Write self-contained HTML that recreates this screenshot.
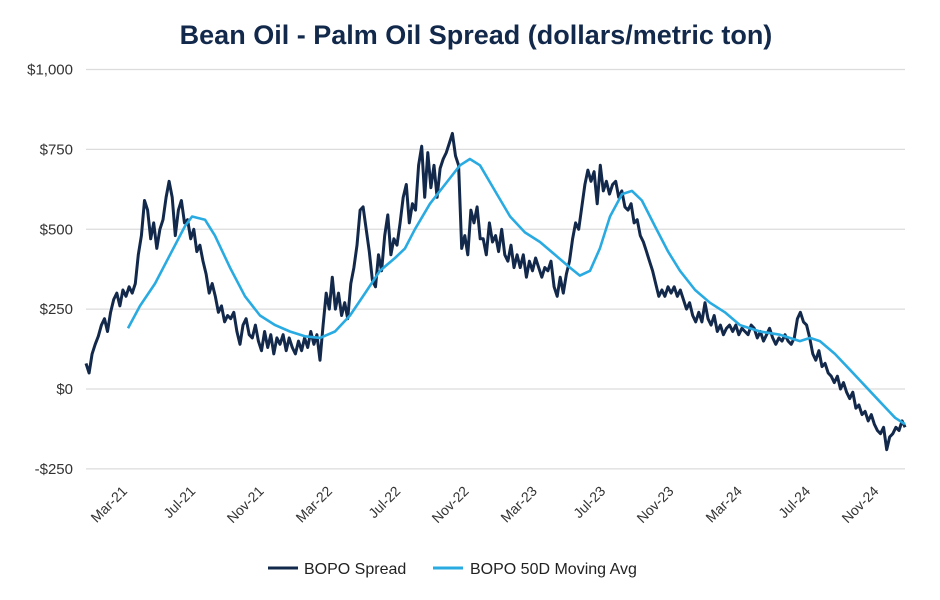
<!DOCTYPE html>
<html><head><meta charset="utf-8"><style>
body{margin:0;background:#fff;}
svg{display:block;font-family:"Liberation Sans",sans-serif;}
</style></head><body>
<svg id="chart" width="940" height="600">
<text x="476" y="44" text-anchor="middle" font-size="27" font-weight="bold" fill="#13294b">Bean Oil - Palm Oil Spread (dollars/metric ton)</text>
<g id="grid"></g>
<g id="yt"></g>
<g id="xt"></g>
<g id="series"></g>
<g>
<g><line x1="268" y1="568" x2="298" y2="568" stroke="#13294b" stroke-width="3"/><text x="304" y="574" font-size="16" fill="#222">BOPO Spread</text></g>
<g><line x1="433" y1="568" x2="463" y2="568" stroke="#29abe2" stroke-width="3"/><text x="470" y="574" font-size="16" fill="#222">BOPO 50D Moving Avg</text></g>
</g>
</svg>
<script>
const yTicks=[-250,0,250,500,750,1000];
const yTickLabels=["-$250","$0","$250","$500","$750","$1,000"];
const xTickMonths=[2,6,10,14,18,22,26,30,34,38,42,46];
const xTickLabels=["Mar-21","Jul-21","Nov-21","Mar-22","Jul-22","Nov-22","Mar-23","Jul-23","Nov-23","Mar-24","Jul-24","Nov-24"];
const spreadStartMonth=-0.46;
const spreadEndMonth=47.5;
const spreadValues=[80,50,110,140,165,200,220,180,240,280,300,260,310,290,320,300,330,420,480,590,560,470,520,440,500,530,600,650,600,480,560,590,520,530,470,500,430,450,400,360,300,330,290,240,260,210,230,220,240,180,140,200,220,170,160,200,150,120,180,130,170,110,160,140,170,120,160,130,110,150,120,160,130,180,140,170,90,200,300,250,350,250,300,230,270,220,330,380,450,560,570,500,430,340,320,420,370,480,545,420,470,450,520,600,640,520,580,560,700,760,600,740,630,700,600,690,720,740,770,800,730,700,440,480,420,560,520,570,470,470,420,520,460,480,430,500,420,400,450,380,420,380,420,350,400,370,410,380,350,380,370,400,320,290,350,300,360,400,470,520,500,570,640,685,650,680,580,700,620,650,610,640,650,600,620,570,560,580,520,530,480,460,430,400,370,330,290,310,290,320,300,320,290,310,280,250,270,230,210,240,210,270,220,200,230,180,200,170,190,200,180,200,170,190,180,170,200,190,160,180,150,170,190,160,140,160,150,170,150,140,160,220,240,210,200,160,110,90,120,70,80,50,40,20,40,0,20,-10,-30,-10,-60,-50,-80,-70,-100,-80,-110,-130,-140,-120,-190,-150,-140,-120,-130,-100,-120];
const maMonths=[2.0,2.7,3.58,4.46,5.34,5.75,6.51,7.09,7.97,8.85,9.73,10.61,11.48,12.36,13.24,14.12,15.0,15.88,16.75,17.63,18.22,18.8,19.68,20.56,21.44,22.02,22.61,23.49,24.37,25.24,26.12,27.0,27.88,28.46,29.05,29.63,30.22,30.92,31.51,32.09,32.85,33.62,34.32,35.2,36.07,36.95,37.83,39.0,40.17,41.34,41.93,42.51,43.39,44.27,45.15,46.03,46.91,47.49];
const maValues=[190,260,330,420,510,540,530,480,380,290,230,200,180,165,160,180,230,300,370,410,440,500,580,640,700,720,700,620,540,490,460,420,380,355,370,440,540,610,620,590,510,430,370,310,270,240,200,180,170,150,160,150,110,60,10,-40,-90,-110];

const NS="http://www.w3.org/2000/svg";
const X0=86,X1=905;
function xScale(m){return 128+(m-2)*17.08;}
function yScale(v){return 389-v*0.3195;}
function mk(tag,attrs,parent){const e=document.createElementNS(NS,tag);for(const k in attrs)e.setAttribute(k,attrs[k]);parent.appendChild(e);return e;}
const grid=document.getElementById('grid'),yt=document.getElementById('yt'),xt=document.getElementById('xt'),ser=document.getElementById('series');
yTicks.forEach((v,i)=>{
  const l=mk('line',{x1:X0,x2:X1,y1:yScale(v),y2:yScale(v),stroke:'#dcdcdc','stroke-width':1.3},grid);
  
  
  const t=mk('text',{x:73,y:yScale(v)+5,'text-anchor':'end','font-size':15,fill:'#333'},yt);
  t.textContent=yTickLabels[i];
  
  
});
xTickMonths.forEach((m,i)=>{
  const x=xScale(m);
  const t=mk('text',{x:x,y:492,'text-anchor':'end','font-size':14,fill:'#333',transform:`rotate(-45 ${x} 492)`},xt);
  t.textContent=xTickLabels[i];
  
  
});
const n=spreadValues.length;
let d=spreadValues.map((v,i)=>{const m=spreadStartMonth+(spreadEndMonth-spreadStartMonth)*i/(n-1);return (i?'L':'M')+xScale(m).toFixed(1)+' '+yScale(v).toFixed(1);}).join(' ');
const p1=mk('path',{d:d,fill:'none',stroke:'#13294b','stroke-width':3,'stroke-linejoin':'round'},ser);


let d2=maValues.map((v,i)=>(i?'L':'M')+xScale(maMonths[i]).toFixed(1)+' '+yScale(v).toFixed(1)).join(' ');
const p2=mk('path',{d:d2,fill:'none',stroke:'#29abe2','stroke-width':2.6,'stroke-linejoin':'round'},ser);


</script>
</body></html>
